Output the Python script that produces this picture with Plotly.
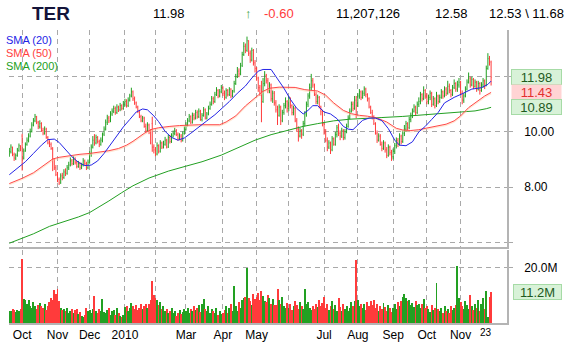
import pandas as pd
import plotly.graph_objects as go

# ---------------- data ----------------
holidays = ["2009-11-26", "2009-12-25", "2010-01-01", "2010-01-18", "2010-02-15",
            "2010-04-02", "2010-05-31", "2010-07-05", "2010-09-06", "2010-11-25"]
dates = pd.bdate_range("2009-09-21", "2010-11-29", freq="C", holidays=holidays)

close = [
    9.30, 9.45, 9.20, 9.05, 9.15, 9.35, 9.50, 9.40,
    9.05, 9.30, 9.55, 9.70, 9.85, 10.00, 10.25, 10.40, 10.55, 10.35, 10.20, 10.30, 10.05, 9.95, 10.10, 9.80, 9.60, 9.55, 9.40, 9.00, 8.70, 8.45,
    8.25, 8.15, 8.40, 8.35, 8.55, 8.50, 8.70, 8.80, 8.95, 8.85, 9.00, 8.90, 8.75, 8.85, 8.70, 8.80, 8.95, 8.85, 8.70, 8.90,
    9.20, 9.45, 9.70, 9.60, 9.80, 9.65, 9.55, 9.70, 9.90, 10.10, 10.35, 10.50, 10.40, 10.65, 10.75, 10.85, 10.70, 10.90, 10.80, 10.95, 10.85, 11.00,
    11.10, 10.95, 11.15, 11.30, 11.45, 11.20, 11.05, 10.90, 10.75, 10.55, 10.40, 10.50, 10.20, 10.05, 10.25, 10.00, 9.60, 9.45, 9.35,
    9.20, 9.50, 9.30, 9.60, 9.45, 9.55, 9.70, 9.45, 9.80, 9.65, 9.85, 9.95, 10.05, 9.90, 9.75, 9.85, 9.70, 9.95, 10.10,
    10.25, 10.40, 10.55, 10.35, 10.60, 10.50, 10.70, 10.55, 10.75, 10.45, 10.60, 10.80, 10.50, 10.65, 10.85, 11.00, 11.20, 11.10, 11.35, 11.50, 11.30, 11.45, 11.60,
    11.40, 11.25, 11.50, 11.35, 11.55, 11.30, 11.45, 11.75, 12.00, 12.20, 12.10, 12.35, 12.80, 13.10, 12.95, 13.30, 12.85, 12.60, 12.95, 12.50, 12.30,
    11.95, 11.60, 11.40, 11.00, 11.75, 12.05, 11.85, 11.50, 11.70, 11.20, 11.40, 11.05, 10.80, 10.60, 10.90, 10.40, 10.70, 10.95, 11.10, 10.85,
    11.20, 10.95, 10.70, 10.85, 10.40, 10.10, 9.85, 10.05, 9.90, 10.30, 10.65, 11.00, 11.30, 11.60, 11.85, 11.70, 11.35, 11.10, 11.25, 10.90, 10.75, 10.30,
    10.00, 9.70, 9.45, 9.60, 9.35, 9.75, 9.55, 9.90, 10.15, 9.95, 9.85, 10.05, 9.80, 10.00, 10.20, 10.50, 10.75, 11.00, 10.85, 11.15, 10.95,
    11.30, 11.45, 11.25, 11.40, 11.55, 11.35, 11.20, 10.90, 10.70, 10.55, 10.30, 9.95, 9.70, 9.85, 9.55, 9.40, 9.60, 9.35, 9.15, 9.45, 9.25, 9.10,
    9.30, 9.50, 9.70, 9.55, 9.85, 9.65, 9.95, 10.10, 10.30, 10.15, 10.45, 10.60, 10.75, 10.90, 10.70, 11.00, 11.10, 11.35, 11.20, 11.50, 11.30,
    11.10, 11.25, 11.40, 11.00, 11.20, 10.95, 11.30, 11.10, 11.25, 11.45, 11.30, 11.55, 11.40, 11.65, 11.50, 11.35, 11.60, 11.75, 11.55, 11.70, 11.80,
    11.40, 11.15, 11.30, 11.55, 11.80, 11.95, 11.70, 11.90, 11.65, 11.80, 11.55, 11.75, 11.50, 11.70, 11.85, 11.65, 12.30, 12.65, 12.58, 11.98,
]
open_ = [
    9.20, 9.28, 9.42, 9.18, 9.05, 9.15, 9.33, 9.48,
    9.85, 9.05, 9.32, 9.55, 9.68, 9.85, 10.02, 10.25, 10.40, 10.55, 10.35, 10.18, 10.30, 10.05, 9.95, 10.10, 9.80, 9.62, 9.55, 9.38, 9.00, 8.70,
    8.45, 8.28, 8.15, 8.42, 8.35, 8.55, 8.50, 8.70, 8.80, 8.95, 8.85, 9.00, 8.90, 8.75, 8.85, 8.70, 8.80, 8.95, 8.85, 8.70,
    8.92, 9.20, 9.45, 9.70, 9.60, 9.80, 9.65, 9.55, 9.70, 9.92, 10.10, 10.35, 10.50, 10.40, 10.65, 10.75, 10.85, 10.70, 10.90, 10.80, 10.95, 10.85,
    11.00, 11.10, 10.95, 11.15, 11.30, 11.45, 11.20, 11.05, 10.90, 10.75, 10.55, 10.40, 10.50, 10.20, 10.05, 10.25, 10.00, 10.30, 9.45,
    9.35, 9.20, 9.50, 9.30, 9.60, 9.45, 9.55, 9.70, 9.45, 9.80, 9.65, 9.85, 9.95, 10.05, 9.90, 9.75, 9.85, 9.70, 9.95,
    10.10, 10.25, 10.40, 10.55, 10.35, 10.60, 10.50, 10.70, 10.55, 10.75, 10.45, 10.60, 10.80, 10.50, 10.65, 10.85, 11.00, 11.20, 11.10, 11.35, 11.50, 11.30, 11.45,
    11.60, 11.40, 11.25, 11.50, 11.35, 11.55, 11.30, 11.48, 11.75, 12.00, 12.20, 12.10, 12.40, 12.80, 13.10, 12.95, 13.30, 12.85, 12.60, 12.95, 12.50,
    12.30, 11.95, 11.60, 11.40, 11.10, 11.75, 12.05, 11.85, 11.50, 11.70, 11.20, 11.40, 11.05, 10.80, 10.60, 10.90, 10.40, 10.70, 10.95, 11.10,
    10.85, 11.20, 10.95, 10.70, 10.85, 10.40, 10.10, 9.85, 10.05, 9.92, 10.30, 10.65, 11.00, 11.30, 11.60, 11.85, 11.70, 11.35, 11.10, 11.25, 10.90, 10.75,
    10.30, 10.00, 9.70, 9.45, 9.60, 9.35, 9.75, 9.55, 9.90, 10.15, 9.95, 9.85, 10.05, 9.80, 10.00, 10.20, 10.50, 10.75, 11.00, 10.85, 11.15,
    10.95, 11.30, 11.45, 11.25, 11.40, 11.55, 11.35, 11.20, 10.90, 10.70, 10.55, 10.30, 9.95, 9.70, 9.85, 9.55, 9.40, 9.60, 9.35, 9.15, 9.45, 9.25,
    9.10, 9.30, 9.50, 9.70, 9.55, 9.85, 9.65, 9.95, 10.10, 10.30, 10.15, 10.45, 10.60, 10.75, 10.90, 10.70, 11.00, 11.10, 11.35, 11.20, 11.50,
    11.30, 11.10, 11.25, 11.40, 11.00, 11.20, 10.95, 11.30, 11.10, 11.25, 11.45, 11.30, 11.55, 11.40, 11.65, 11.50, 11.35, 11.60, 11.75, 11.55, 11.70,
    11.80, 11.40, 11.15, 11.30, 11.55, 11.80, 11.95, 11.70, 11.90, 11.65, 11.80, 11.55, 11.75, 11.50, 11.70, 11.85, 11.70, 12.30, 12.65, 12.53,
]
high = [
    9.42, 9.55, 9.47, 9.25, 9.22, 9.42, 9.58, 9.52,
    9.93, 9.40, 9.62, 9.80, 9.95, 10.12, 10.35, 10.50, 10.65, 10.58, 10.40, 10.42, 10.35, 10.15, 10.20, 10.15, 9.85, 9.70, 9.62, 9.45, 9.05, 8.80,
    8.55, 8.35, 8.50, 8.52, 8.65, 8.68, 8.80, 8.92, 9.08, 9.02, 9.12, 9.08, 8.95, 8.95, 8.90, 8.88, 9.05, 9.00, 8.92, 9.00,
    9.30, 9.55, 9.85, 9.92, 9.90, 9.85, 9.72, 9.80, 9.98, 10.20, 10.45, 10.62, 10.58, 10.75, 10.85, 10.95, 10.92, 11.00, 10.95, 11.05, 11.00, 11.12,
    11.20, 11.18, 11.25, 11.38, 11.60, 11.50, 11.28, 11.10, 10.95, 10.80, 10.62, 10.58, 10.55, 10.30, 10.35, 10.30, 10.10, 10.55, 9.55,
    9.45, 9.62, 9.55, 9.70, 9.65, 9.68, 9.82, 9.75, 9.90, 9.88, 9.95, 10.05, 10.15, 10.10, 9.98, 9.95, 9.92, 10.02, 10.20,
    10.35, 10.50, 10.65, 10.60, 10.70, 10.68, 10.80, 10.78, 10.85, 10.80, 10.68, 10.90, 10.85, 10.72, 10.95, 11.10, 11.30, 11.28, 11.45, 11.62, 11.55, 11.55, 11.70,
    11.65, 11.50, 11.58, 11.55, 11.62, 11.58, 11.52, 11.85, 12.10, 12.35, 12.30, 12.50, 12.90, 13.25, 13.20, 13.45, 13.32, 12.95, 13.05, 13.00, 12.60,
    12.35, 12.00, 11.70, 11.85, 11.95, 12.20, 12.10, 11.95, 11.80, 11.75, 11.50, 11.48, 11.15, 10.95, 11.00, 10.95, 10.80, 11.05, 11.25, 11.15,
    11.30, 11.25, 11.00, 10.95, 10.90, 10.50, 10.20, 10.15, 10.10, 10.40, 10.75, 11.10, 11.40, 11.75, 12.10, 11.95, 11.75, 11.45, 11.35, 11.30, 10.95, 10.80,
    10.35, 10.10, 9.80, 9.70, 9.65, 9.85, 9.80, 10.00, 10.25, 10.30, 10.05, 10.15, 10.10, 10.10, 10.30, 10.60, 10.85, 11.10, 11.10, 11.30, 11.30,
    11.40, 11.55, 11.50, 11.50, 11.65, 11.60, 11.40, 11.25, 10.95, 10.80, 10.60, 10.35, 10.05, 9.95, 9.92, 9.65, 9.70, 9.65, 9.45, 9.55, 9.50, 9.35,
    9.40, 9.60, 9.80, 9.78, 9.95, 9.90, 10.05, 10.25, 10.40, 10.35, 10.55, 10.70, 10.85, 11.00, 10.95, 11.10, 11.25, 11.45, 11.40, 11.65, 11.55,
    11.40, 11.35, 11.50, 11.45, 11.30, 11.25, 11.45, 11.35, 11.35, 11.55, 11.50, 11.65, 11.62, 11.85, 11.75, 11.55, 11.70, 11.90, 11.80, 11.85, 11.95,
    11.85, 11.50, 11.40, 11.65, 11.90, 12.15, 12.00, 12.00, 11.95, 11.90, 11.85, 11.85, 11.80, 11.80, 11.95, 11.90, 12.40, 12.85, 12.75, 12.58,
]
low = [
    9.10, 9.22, 9.12, 8.95, 8.98, 9.10, 9.28, 9.30,
    8.60, 9.00, 9.28, 9.50, 9.62, 9.80, 9.98, 10.20, 10.35, 10.28, 10.10, 10.12, 10.00, 9.88, 9.90, 9.75, 9.55, 9.45, 9.35, 8.58, 8.62, 8.40,
    8.18, 8.08, 8.12, 8.25, 8.30, 8.40, 8.45, 8.62, 8.75, 8.78, 8.80, 8.82, 8.68, 8.70, 8.62, 8.65, 8.75, 8.78, 8.62, 8.65,
    8.85, 9.10, 9.40, 9.50, 9.55, 9.58, 9.45, 9.50, 9.62, 9.85, 10.05, 10.25, 10.32, 10.35, 10.58, 10.68, 10.62, 10.65, 10.72, 10.75, 10.78, 10.80,
    10.92, 10.88, 10.90, 11.10, 11.25, 11.12, 10.98, 10.85, 10.68, 10.50, 10.35, 10.35, 10.15, 9.95, 10.00, 9.92, 9.55, 9.28, 9.22,
    9.12, 9.15, 9.22, 9.25, 9.38, 9.40, 9.50, 9.40, 9.42, 9.58, 9.60, 9.80, 9.88, 9.85, 9.68, 9.70, 9.62, 9.65, 9.90,
    10.05, 10.20, 10.35, 10.28, 10.30, 10.42, 10.45, 10.48, 10.50, 10.40, 10.38, 10.55, 10.45, 10.45, 10.60, 10.80, 10.95, 11.00, 11.05, 11.30, 11.22, 11.25, 11.40,
    11.30, 11.15, 11.20, 11.28, 11.30, 11.22, 11.25, 11.42, 11.70, 11.95, 11.98, 12.05, 12.35, 12.75, 12.85, 12.90, 12.75, 12.50, 12.55, 12.40, 12.15,
    11.85, 11.45, 11.30, 10.35, 11.05, 11.65, 11.75, 11.40, 11.40, 11.10, 11.05, 10.95, 10.70, 10.25, 10.55, 10.25, 10.35, 10.62, 10.85, 10.70,
    10.75, 10.85, 10.60, 10.60, 10.35, 10.00, 9.65, 9.80, 9.75, 9.85, 10.20, 10.55, 10.90, 11.20, 11.50, 11.60, 11.30, 11.00, 11.00, 10.85, 10.60, 10.20,
    9.90, 9.62, 9.30, 9.38, 9.20, 9.30, 9.50, 9.50, 9.80, 9.85, 9.70, 9.78, 9.70, 9.72, 9.95, 10.15, 10.45, 10.70, 10.75, 10.80, 10.50,
    10.90, 11.20, 11.15, 11.20, 11.30, 11.25, 11.10, 10.85, 10.65, 10.45, 10.25, 9.90, 9.60, 9.65, 9.50, 9.30, 9.35, 9.25, 9.05, 9.10, 9.15, 8.95,
    9.00, 9.20, 9.40, 9.45, 9.50, 9.55, 9.60, 9.85, 10.00, 10.05, 10.10, 10.35, 10.50, 10.70, 10.60, 10.65, 10.90, 11.00, 11.10, 11.15, 11.20,
    11.00, 11.00, 11.15, 10.90, 10.95, 10.85, 10.90, 11.00, 11.05, 11.20, 11.20, 11.25, 11.30, 11.35, 11.40, 11.25, 11.30, 11.55, 11.45, 11.45, 11.60,
    11.35, 11.00, 11.05, 11.25, 11.50, 11.75, 11.60, 11.65, 11.55, 11.60, 11.45, 11.50, 11.35, 11.45, 11.60, 11.55, 11.65, 12.25, 12.40, 11.68,
]
volume_m = [
    4.5, 4.2, 5.0, 4.8, 4.0, 4.6, 4.3, 5.2,
    23.0, 8.8, 8.3, 7.0, 8.5, 6.2, 5.5, 7.5, 6.0, 5.0, 6.5, 7.4, 6.0, 5.3, 6.8, 4.8, 6.2, 7.5, 9.2, 8.5, 12.0, 10.5,
    12.4, 8.0, 5.5, 4.8, 5.2, 4.2, 5.5, 3.8, 4.5, 5.0, 3.5, 4.6, 5.2, 3.2, 4.0, 2.5, 2.3, 3.0, 5.5, 4.5,
    4.8, 3.5, 5.0, 9.6, 4.2, 3.8, 5.0, 4.5, 8.8, 4.0, 3.5, 4.8, 5.5, 3.0, 4.2, 4.8, 2.8, 5.5, 3.6, 2.5, 2.0, 3.0,
    5.8, 6.2, 4.5, 5.5, 7.2, 6.0, 5.0, 6.5, 4.8, 5.6, 6.8, 5.2, 6.0, 7.0, 5.5, 6.8, 8.5, 15.2, 10.0,
    9.0, 8.2, 6.5, 7.5, 5.2, 6.0, 4.5, 5.0, 3.5, 4.2, 5.5, 3.8, 4.5, 2.5, 3.5, 4.8, 3.2, 4.0, 5.0,
    4.5, 5.5, 3.8, 5.0, 4.2, 6.0, 4.8, 5.5, 6.5, 4.0, 7.0, 8.8, 5.2, 4.5, 6.0, 3.8, 5.0, 4.2, 3.5, 5.5, 3.0, 4.5, 3.2,
    3.5, 4.8, 6.0, 3.8, 5.5, 7.0, 4.5, 13.4, 6.0, 4.2, 7.5, 5.5, 8.5, 9.0, 9.5, 20.0, 9.2, 8.0, 6.5, 10.5, 8.8,
    9.5, 10.8, 8.5, 11.6, 9.8, 8.0, 7.5, 10.2, 9.0, 7.0, 8.8, 6.5, 6.5, 12.4, 8.5, 7.0, 9.5, 6.0, 5.5, 7.2,
    5.5, 7.0, 4.8, 6.2, 8.0, 6.5, 5.0, 7.5, 6.0, 5.2, 12.4, 6.8, 7.5, 5.5, 4.8, 6.2, 5.0, 7.0, 5.8, 8.5, 6.0, 7.2,
    9.4, 5.5, 7.0, 4.8, 6.0, 7.8, 5.2, 6.5, 4.5, 9.2, 5.8, 4.2, 6.8, 5.0, 6.2, 4.5, 5.5, 7.5, 6.0, 8.0, 22.9,
    8.5, 6.2, 7.0, 5.5, 6.8, 4.8, 7.5, 6.0, 8.0, 6.5, 8.4, 5.5, 7.0, 4.5, 6.2, 5.0, 7.2, 5.8, 4.2, 6.5, 5.5, 4.0,
    5.5, 6.8, 5.0, 7.5, 6.2, 8.0, 9.5, 10.5, 9.0, 7.8, 8.5, 6.5, 7.2, 5.8, 8.0, 6.5, 7.0, 5.5, 6.8, 8.8, 5.5,
    6.0, 5.2, 4.0, 6.5, 4.8, 5.5, 14.5, 5.0, 4.2, 5.5, 3.8, 6.0, 4.5, 5.2, 3.5, 6.2, 4.8, 5.5, 6.5, 20.5, 9.0,
    7.5, 6.0, 5.2, 8.0, 6.5, 5.0, 10.0, 6.2, 4.8, 7.0, 5.5, 8.2, 4.5, 6.8, 9.0, 5.0, 11.6, 2.0, 9.5, 11.207126,
]

# moving averages (bar index, value)
sma20_idx = [0, 5, 10, 15, 20, 24, 28, 31, 35, 39, 43, 47, 51, 55, 59, 63, 67, 71, 75, 79,
             83, 86, 90, 93, 97, 101, 105, 109, 113, 118, 123, 128, 132, 137, 142, 147, 151, 155, 158, 163,
             167, 171, 175, 179, 183, 186, 189, 192, 196, 200, 204, 208, 211, 214, 217, 220, 224, 228, 232, 236,
             240, 243, 247, 251, 255, 259, 263, 267, 271, 277, 282, 288, 294, 298, 300]
sma20_val = [8.45, 8.68, 8.92, 9.22, 9.52, 9.72, 9.74, 9.62, 9.35, 9.10, 8.90, 8.78, 8.80, 8.95, 9.22, 9.55, 9.85, 10.18, 10.45, 10.72,
             10.83, 10.80, 10.58, 10.37, 10.02, 9.80, 9.70, 9.78, 9.95, 10.19, 10.40, 10.62, 10.83, 11.10, 11.40, 11.66, 11.95, 12.20, 12.26, 12.26,
             11.92, 11.58, 11.18, 10.85, 10.65, 10.78, 10.95, 10.95, 10.72, 10.65, 10.48, 10.20, 10.10, 10.08, 10.25, 10.42, 10.50, 10.50, 10.41, 10.12,
             9.70, 9.52, 9.50, 9.64, 10.00, 10.20, 10.45, 10.70, 11.05, 11.25, 11.38, 11.55, 11.60, 11.72, 11.84]
sma50_idx = [0, 8, 15, 22, 27, 31, 38, 44, 50, 56, 62, 68, 73, 77, 81, 85, 89, 93, 100, 106,
             118, 131, 135, 141, 147, 151, 155, 158, 162, 168, 178, 184, 192, 197, 202, 208, 213, 218, 223, 229,
             235, 241, 245, 250, 255, 260, 266, 272, 277, 281, 286, 291, 296, 300]
sma50_val = [8.13, 8.32, 8.52, 8.82, 9.02, 9.08, 9.15, 9.19, 9.22, 9.26, 9.32, 9.40, 9.52, 9.66, 9.83, 9.99, 10.10, 10.15, 10.20, 10.23,
             10.26, 10.26, 10.36, 10.58, 10.94, 11.15, 11.33, 11.47, 11.58, 11.62, 11.61, 11.53, 11.48, 11.33, 11.05, 10.78, 10.66, 10.60, 10.57, 10.50,
             10.36, 10.13, 10.07, 10.05, 10.08, 10.14, 10.22, 10.28, 10.40, 10.58, 10.88, 11.10, 11.30, 11.43]
sma200_idx = [0, 8, 15, 25, 36, 43, 50, 56, 62, 70, 77, 87, 99, 110, 120, 132, 143, 153, 163, 173,
              183, 192, 202, 212, 222, 232, 245, 255, 265, 278, 290, 297, 300]
sma200_val = [5.97, 6.14, 6.31, 6.58, 6.78, 6.92, 7.08, 7.28, 7.50, 7.80, 8.05, 8.33, 8.58, 8.76, 8.92, 9.16, 9.45, 9.70, 9.90, 10.06,
              10.20, 10.30, 10.40, 10.46, 10.48, 10.52, 10.56, 10.60, 10.65, 10.70, 10.76, 10.84, 10.89]

month_labels = ["Oct", "Nov", "Dec", "2010", "", "Mar", "Apr", "May", "", "Jul", "Aug", "Sep", "Oct", "Nov"]
price_ticks = [6, 8, 10, 12]
price_ticktext = ["", "8.00", "10.00", ""]

# ---------------- derived positions ----------------
n = len(close)
idx = list(range(n))
month_starts = [i for i in range(1, n) if dates[i].month != dates[i - 1].month]
nov23 = [i for i in range(n) if dates[i] == pd.Timestamp("2010-11-23")][0]

GREEN = "#22a022"
RED = "#ff3b3b"
up = [True] + [close[i] >= close[i - 1] for i in range(1, n)]

FONT = "Liberation Sans, Arial, sans-serif"
GRID = "#a9a9a9"
AXIS = "#b4b4b4"

fig = go.Figure()

for flag, col in ((True, GREEN), (False, RED)):
    sel = [i for i in idx if up[i] == flag]
    fig.add_trace(go.Ohlc(
        x=sel, open=[open_[i] for i in sel], high=[high[i] for i in sel],
        low=[low[i] for i in sel], close=[close[i] for i in sel],
        increasing=dict(line=dict(color=col, width=1)),
        decreasing=dict(line=dict(color=col, width=1)),
        tickwidth=0.3, showlegend=False, hoverinfo="skip", xaxis="x", yaxis="y"))

fig.add_trace(go.Scatter(x=sma200_idx, y=sma200_val, mode="lines",
                         line=dict(color="#22a022", width=1), showlegend=False, hoverinfo="skip"))
fig.add_trace(go.Scatter(x=sma50_idx, y=[v - 0.04 for v in sma50_val], mode="lines",
                         line=dict(color="rgba(255,200,160,0.45)", width=1.5), showlegend=False, hoverinfo="skip"))
fig.add_trace(go.Scatter(x=sma50_idx, y=sma50_val, mode="lines",
                         line=dict(color="#ff4848", width=1), showlegend=False, hoverinfo="skip"))
fig.add_trace(go.Scatter(x=sma20_idx, y=sma20_val, mode="lines",
                         line=dict(color="#2424e6", width=1), showlegend=False, hoverinfo="skip"))

fig.add_trace(go.Bar(x=idx, y=[v * 1e6 for v in volume_m],
                     marker=dict(color=[GREEN if u else RED for u in up], line=dict(width=0)),
                     width=0.62, showlegend=False, hoverinfo="skip", xaxis="x2", yaxis="y2"))

# ---------------- layout ----------------
L, R, T, B = 9, 56, 30, 24
W, H = 567, 351
ph = H - T - B
pw = W - L - R


def px_x(px):
    return (px - L) / pw


def px_y(py):
    return 1 - (py - T) / ph


xcommon = dict(range=[-0.2, 309.9], tickmode="array", tickvals=month_starts,
               showgrid=True, gridcolor=GRID, griddash="5px,4px", gridwidth=1,
               showline=True, linecolor=AXIS, linewidth=1.5, ticks="", zeroline=False,
               fixedrange=True)
ycommon = dict(side="right", showline=True, linecolor=AXIS, linewidth=1.5,
               showgrid=True, gridcolor=GRID, griddash="5px,4px", gridwidth=1,
               ticks="outside", ticklen=4, tickcolor=GRID, zeroline=False,
               tickfont=dict(family=FONT, size=12, color="#000000"), ticklabelstandoff=9)

fig.update_layout(
    width=W, height=H, margin=dict(l=L, r=R, t=T, b=B),
    paper_bgcolor="white", plot_bgcolor="white", bargap=0,
    xaxis=dict(**xcommon, domain=[0, 1], anchor="y", showticklabels=False,
               rangeslider=dict(visible=False)),
    xaxis2=dict(**xcommon, domain=[0, 1], anchor="y2", matches="x", ticktext=month_labels,
                showticklabels=True, tickfont=dict(family=FONT, size=12, color="#000000")),
    yaxis=dict(**ycommon, domain=[(H - B - 250) / ph, 1], range=[5.832, 13.689],
               tickmode="array", tickvals=price_ticks, ticktext=price_ticktext),
    yaxis2=dict(**ycommon, domain=[0, (H - B - 253) / ph], range=[0, 26.43e6],
                tickmode="array", tickvals=[20e6], ticktext=["20.0M"]),
)

ann = []
hy = px_y(13)
header = [
    ("TER", 51, 19, "#14143a", True),
    ("11.98", 170, 13, "#000000", False),
    ("↑", 250, 13, "#3aa03a", False),
    ("-0.60", 281, 13, "#ff3b3b", False),
    ("11,207,126", 371, 13, "#000000", False),
    ("12.58", 455, 13, "#000000", False),
    ("12.53 \\ 11.68", 531, 13, "#000000", False),
]
for txt, cx, size, col, bold in header:
    ann.append(dict(text=("<b>%s</b>" % txt) if bold else txt, x=px_x(cx), y=hy,
                    xref="paper", yref="paper", xanchor="center", yanchor="middle",
                    showarrow=False, font=dict(family=FONT, size=size, color=col)))

for txt, py, col in (("SMA (20)", 40, "#2424e6"), ("SMA (50)", 53, "#ff4040"), ("SMA (200)", 66, "#22a022")):
    ann.append(dict(text=txt, x=px_x(4), y=px_y(py), xref="paper", yref="paper",
                    xanchor="left", yanchor="middle", showarrow=False,
                    font=dict(family=FONT, size=11, color=col)))

cx = px_x(540.5)
boxes = [
    ("11.98", close[-1], "#d8f2d8", "#a6dba6", "#1e5a1e"),
    ("11.43", sma50_val[-1], "#ffd4d4", "rgba(0,0,0,0)", "#e23030"),
    ("10.89", sma200_val[-1], "#d8f2d8", "#a6dba6", "#1e5a1e"),
]
for txt, val, bg, bc, fc in boxes:
    ann.append(dict(text=txt, x=cx, y=val, xref="paper", yref="y", xanchor="center",
                    yanchor="middle", showarrow=False, bgcolor=bg, bordercolor=bc,
                    borderwidth=1, borderpad=0, width=49, height=14,
                    font=dict(family=FONT, size=13, color=fc)))
ann.append(dict(text="11.2M", x=px_x(541.5), y=volume_m[-1] * 1e6, xref="paper", yref="y2",
                xanchor="center", yanchor="middle", showarrow=False, bgcolor="#d8f2d8",
                bordercolor="#a6dba6", borderwidth=1, borderpad=0, width=47, height=14,
                font=dict(family=FONT, size=13, color="#1e5a1e")))
ann.append(dict(text="23", x=nov23, y=-(336.5 - (H - B)) / ph, xref="x2", yref="paper",
                xanchor="center", yanchor="middle", showarrow=False,
                font=dict(family=FONT, size=10, color="#000000")))

fig.update_layout(annotations=ann)
fig.add_shape(type="rect", xref="paper", yref="y", x0=px_x(516), x1=px_x(565),
              y0=11.70, y1=11.82, fillcolor="#c4c4f6", line=dict(width=0), layer="above")

fig.write_html("out.html")
